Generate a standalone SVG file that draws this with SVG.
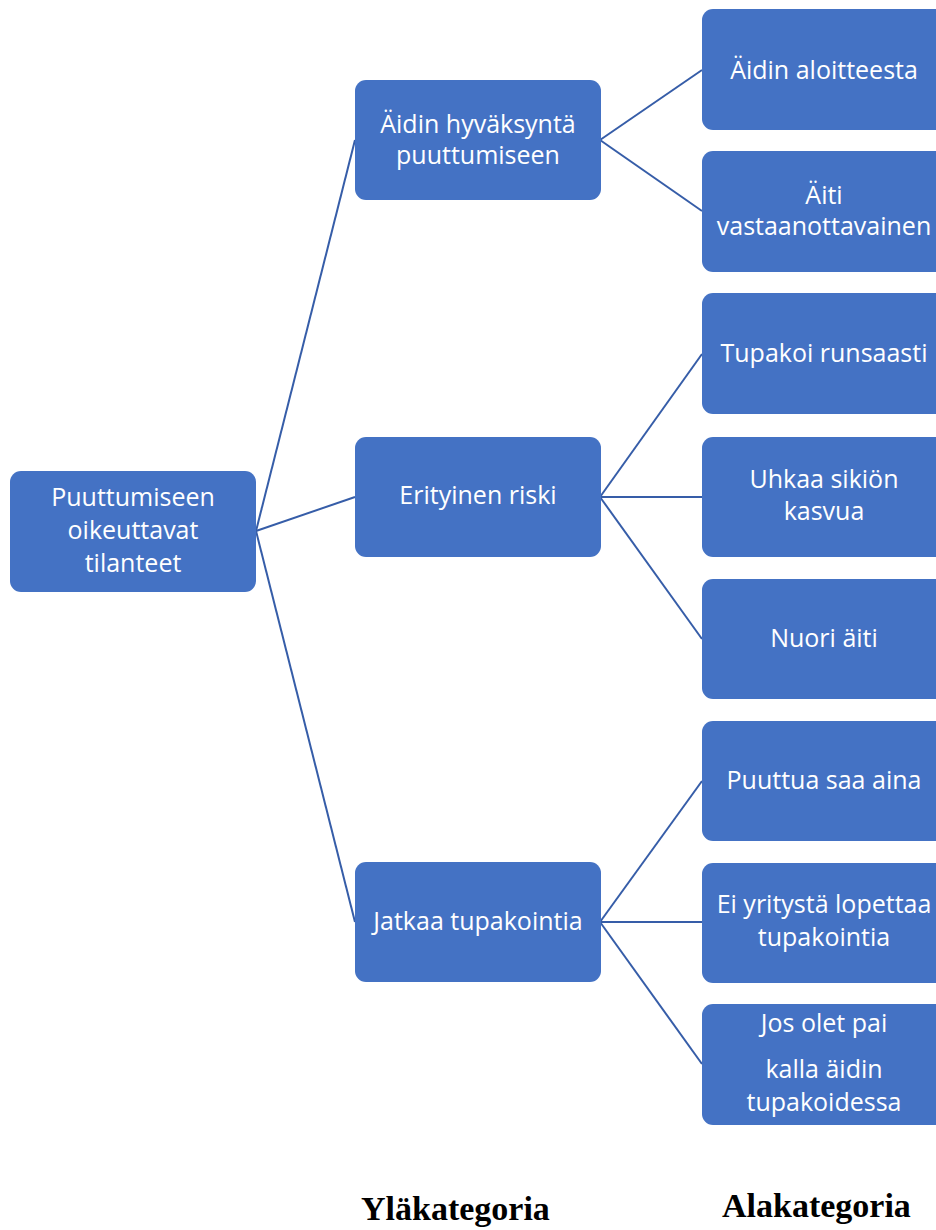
<svg xmlns="http://www.w3.org/2000/svg" width="936" height="1230" viewBox="0 0 936 1230">
<style>
.box{fill:#4472C4;}
.t{font-family:"Open Sans","Liberation Sans",sans-serif;font-size:25px;fill:#FFFFFF;text-anchor:middle;}
.c{stroke:#365DA8;stroke-width:2;fill:none;}
.lbl{font-family:"Liberation Serif","Times New Roman",serif;font-weight:bold;font-size:34px;fill:#000000;}
</style>
<rect width="936" height="1230" fill="#FFFFFF"/>
<g id="connectors">
<line class="c" x1="256" y1="531" x2="355" y2="140"/>
<line class="c" x1="256" y1="531" x2="355" y2="497"/>
<line class="c" x1="256" y1="531" x2="355" y2="922"/>
<line class="c" x1="600" y1="140" x2="702" y2="70"/>
<line class="c" x1="600" y1="140" x2="702" y2="211"/>
<line class="c" x1="600" y1="497" x2="702" y2="354"/>
<line class="c" x1="600" y1="497" x2="702" y2="497"/>
<line class="c" x1="600" y1="497" x2="702" y2="639"/>
<line class="c" x1="600" y1="922" x2="702" y2="781"/>
<line class="c" x1="600" y1="922" x2="702" y2="922"/>
<line class="c" x1="600" y1="922" x2="702" y2="1064"/>
</g>
<g id="root">
<rect class="box" x="10" y="471" width="246" height="121" rx="11"/>
<text class="t" x="133" y="506">Puuttumiseen</text>
<text class="t" x="133" y="539">oikeuttavat</text>
<text class="t" x="133" y="572">tilanteet</text>
</g>
<g id="mid1">
<rect class="box" x="355" y="80" width="246" height="120" rx="11"/>
<text class="t" x="478" y="133">Äidin hyväksyntä</text>
<text class="t" x="478" y="164">puuttumiseen</text>
</g>
<g id="mid2">
<rect class="box" x="355" y="437" width="246" height="120" rx="11"/>
<text class="t" x="478" y="504">Erityinen riski</text>
</g>
<g id="mid3">
<rect class="box" x="355" y="862" width="246" height="120" rx="11"/>
<text class="t" x="478" y="930">Jatkaa tupakointia</text>
</g>
<g id="leaf1">
<rect class="box" x="702" y="9" width="246" height="121" rx="11"/>
<text class="t" x="824" y="79">Äidin aloitteesta</text>
</g>
<g id="leaf2">
<rect class="box" x="702" y="151" width="246" height="121" rx="11"/>
<text class="t" x="824" y="204">Äiti</text>
<text class="t" x="824" y="235">vastaanottavainen</text>
</g>
<g id="leaf3">
<rect class="box" x="702" y="293" width="246" height="121" rx="11"/>
<text class="t" x="824" y="362">Tupakoi runsaasti</text>
</g>
<g id="leaf4">
<rect class="box" x="702" y="437" width="246" height="120" rx="11"/>
<text class="t" x="824" y="488">Uhkaa sikiön</text>
<text class="t" x="824" y="520">kasvua</text>
</g>
<g id="leaf5">
<rect class="box" x="702" y="579" width="246" height="120" rx="11"/>
<text class="t" x="824" y="647">Nuori äiti</text>
</g>
<g id="leaf6">
<rect class="box" x="702" y="721" width="246" height="120" rx="11"/>
<text class="t" x="824" y="789">Puuttua saa aina</text>
</g>
<g id="leaf7">
<rect class="box" x="702" y="863" width="246" height="120" rx="11"/>
<text class="t" x="824" y="913">Ei yritystä lopettaa</text>
<text class="t" x="824" y="946">tupakointia</text>
</g>
<g id="leaf8">
<rect class="box" x="702" y="1004" width="246" height="121" rx="11"/>
<text class="t" x="824" y="1032">Jos olet pai</text>
<text class="t" x="824" y="1078">kalla äidin</text>
<text class="t" x="824" y="1111">tupakoidessa</text>
</g>
<g id="labels">
<text class="lbl" x="361" y="1220">Yläkategoria</text>
<text class="lbl" x="722" y="1217">Alakategoria</text>
</g>
</svg>
